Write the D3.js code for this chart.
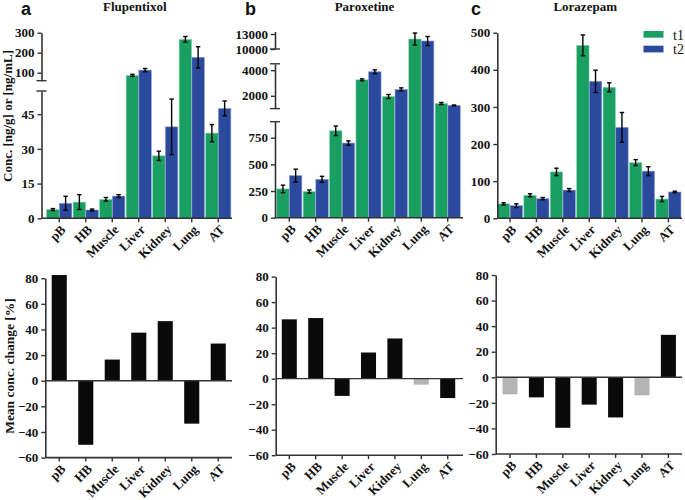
<!DOCTYPE html>
<html><head><meta charset="utf-8">
<script src="https://cdn.jsdelivr.net/npm/d3@7/dist/d3.min.js"></script>
<style>
body{margin:0;background:#fff;}
svg text{font-family:"Liberation Serif","Times New Roman",serif;font-weight:bold;fill:#111;}
</style></head><body>
<svg id="chart" width="685" height="500"></svg>
<script>
const categories = ["pB","HB","Muscle","Liver","Kidney","Lung","AT"];
const seriesNames = ["t1","t2"];

const fluT1    = [3.8, 7.0, 8.2, 87, 27, 267, 36.8];
const fluT2    = [6.5, 3.6, 9.6, 113, 39.5, 177, 47.5];
const fluT1Err = [0.4, 3.2, 0.8, 5, 2, 14, 3.7];
const fluT2Err = [3.0, 0.4, 0.6, 8, 12, 53, 3.2];

const parT1    = [270, 245, 815, 3250, 1950, 12000, 1400];
const parT2    = [395, 360, 700, 3880, 2500, 11600, 1250];
const parT1Err = [35, 15, 45, 70, 150, 1200, 80];
const parT2Err = [60, 28, 20, 150, 120, 900, 30];

const lorT1    = [39, 62, 125, 466, 353, 150, 52];
const lorT2    = [34, 53, 76, 369, 245, 127, 71];
const lorT1Err = [3, 4, 10, 28, 12, 8, 7];
const lorT2Err = [5, 3, 4, 30, 40, 12, 2];

const fluChange = [82.5, -50, 16.5, 37.5, 46.5, -33.5, 29];
const parChange = [46.5, 47.5, -13.5, 20.5, 31.5, -4.7, -15.2];
const lorChange = [-13.3, -15.7, -39.5, -21.4, -31.4, -14.1, 33.2];
const fluSignificant = [1,1,1,1,1,1,1];
const parSignificant = [1,1,1,1,1,0,1];
const lorSignificant = [0,1,1,1,1,0,1];

const titles = ["Flupentixol","Paroxetine","Lorazepam"];
const letters = ["a","b","c"];
const changeTicks = [-60,-40,-20,0,20,40,60,80];

const GREEN = "#1a9f62", BLUE = "#2b4a9e", BLACK = "#0a0a0a", GRAY = "#b4b4b4", AX = "#333";
const svg = d3.select("#chart");

function brokenScale(segs){
  const sc = segs.map(s => d3.scaleLinear().domain(s.domain).range(s.range));
  return v => {
    for (let i = 0; i < segs.length; i++){
      if (v <= segs[i].domain[1] || i === segs.length-1){
        if (v < segs[i].domain[0]) return sc[i](segs[i].domain[0]);
        return sc[i](v);
      }
    }
  };
}

const topPanels = [
  {t1: fluT1, t2: fluT2, e1: fluT1Err, e2: fluT2Err, axisX: 41.5, x0: 46, x1: 231.5, xEnd: 232,
   segs: [{domain:[0,55], range:[218.3,91], ticks:[0,15,30,45], capTop:true},
          {domain:[60,300], range:[80.7,32.7], ticks:[100,200,300], capBottom:true}]},
  {t1: parT1, t2: parT2, e1: parT1Err, e2: parT2Err, axisX: 275, x0: 276.1, x1: 460.9, xEnd: 463,
   segs: [{domain:[0,900], range:[217.7,121.7], ticks:[0,250,500,750], capTop:true},
          {domain:[1000,4500], range:[108.6,63.8], ticks:[2000,4000], capTop:true, capBottom:true},
          {domain:[10000,13500], range:[49,31.5], ticks:[10000,13000], capBottom:true}]},
  {t1: lorT1, t2: lorT2, e1: lorT1Err, e2: lorT2Err, axisX: 497.3, x0: 496.8, x1: 681.6, xEnd: 682,
   segs: [{domain:[0,500], range:[218.3,32.7], ticks:[0,100,200,300,400,500]}]}
];

const bottomPanels = [
  {vals: fluChange, sig: fluSignificant, axisX: 45.3, x0: 46, x1: 231.5, xEnd: 232, yr:[457.6,278.2]},
  {vals: parChange, sig: parSignificant, axisX: 275.7, x0: 276.1, x1: 460.9, xEnd: 463, yr:[455.2,276.6]},
  {vals: lorChange, sig: lorSignificant, axisX: 495.7, x0: 496.8, x1: 681.6, xEnd: 682, yr:[454,275]}
];

const tickFont = "13px";

function styleAxis(ax){
  ax.select(".domain").attr("stroke", AX).attr("stroke-width", 1.6);
  ax.selectAll(".tick line").attr("stroke", AX).attr("stroke-width", 1.4);
  ax.selectAll(".tick text").style("font-size", tickFont).style("font-family",'"Liberation Serif",serif').style("font-weight","bold").attr("fill","#111");
}

function drawXAxis(g, x, y0, axisX, xEnd){
  g.append("line").attr("x1", axisX).attr("x2", xEnd).attr("y1", y0).attr("y2", y0)
    .attr("stroke", AX).attr("stroke-width", 1.6);
  categories.forEach(c => {
    const cx = x(c) + x.bandwidth()/2;
    g.append("line").attr("x1", cx).attr("x2", cx).attr("y1", y0).attr("y2", y0+4)
      .attr("stroke", AX).attr("stroke-width", 1.4);
    g.append("text").attr("transform", `translate(${cx+4},${y0+9}) rotate(-45)`)
      .attr("text-anchor","end").attr("dy","0.35em").style("font-size", tickFont).text(c);
  });
}

topPanels.forEach((p, pi) => {
  const g = svg.append("g");
  const x = d3.scaleBand().domain(categories).range([p.x0, p.x1]).padding(0);
  const xs = d3.scaleBand().domain(seriesNames).range([0, x.bandwidth()]).paddingInner(0.02).paddingOuter(0.05);
  const y = brokenScale(p.segs);
  const y0 = y(0);
  const rows = categories.map((c,i) => ({c, vals:[
    {s:"t1", v:p.t1[i], e:p.e1[i]}, {s:"t2", v:p.t2[i], e:p.e2[i]}]}));
  const grp = g.selectAll("g.cat").data(rows).join("g").attr("transform", d => `translate(${x(d.c)},0)`);
  grp.selectAll("rect").data(d => d.vals).join("rect")
    .attr("x", d => xs(d.s)).attr("width", xs.bandwidth())
    .attr("y", d => y(d.v)).attr("height", d => y0 - y(d.v))
    .attr("fill", d => d.s === "t1" ? GREEN : BLUE)
    .attr("stroke", d => d.s === "t1" ? "#8fd6b2" : "#8d9fd6").attr("stroke-width", 0.6);
  grp.selectAll("g.err").data(d => d.vals).join("g").each(function(d){
    const cx = xs(d.s) + xs.bandwidth()/2;
    const e = d3.select(this);
    const yt = y(d.v + d.e), yb = y(d.v - d.e);
    e.append("line").attr("x1",cx).attr("x2",cx).attr("y1",yt).attr("y2",yb).attr("stroke","#000").attr("stroke-width",1.4);
    [yt,yb].forEach(yy => e.append("line").attr("x1",cx-2.2).attr("x2",cx+2.2).attr("y1",yy).attr("y2",yy).attr("stroke","#000").attr("stroke-width",1.4));
  });
  p.segs.forEach(s => {
    const sc = d3.scaleLinear().domain(s.domain).range(s.range);
    const ax = g.append("g").attr("transform", `translate(${p.axisX},0)`)
      .call(d3.axisLeft(sc).tickValues(s.ticks).tickFormat(d3.format("d")).tickSize(4).tickSizeOuter(0).tickPadding(3));
    styleAxis(ax);
    if (s.capTop) g.append("line").attr("x1",p.axisX-5).attr("x2",p.axisX+5).attr("y1",s.range[1]).attr("y2",s.range[1]).attr("stroke",AX).attr("stroke-width",1.4);
    if (s.capBottom) g.append("line").attr("x1",p.axisX-5).attr("x2",p.axisX+5).attr("y1",s.range[0]).attr("y2",s.range[0]).attr("stroke",AX).attr("stroke-width",1.4);
  });
  drawXAxis(g, x, y0, p.axisX, p.xEnd);
  g.append("text").attr("x", (p.x0+p.x1)/2 - 4).attr("y", 11).attr("text-anchor","middle").style("font-size","13px").text(titles[pi]);
  g.append("text").attr("x", [21,245,471][pi]).attr("y", 15).style("font-family",'"Liberation Sans",Arial,sans-serif').style("font-size","18px").text(letters[pi]);
});

svg.append("text").attr("transform","translate(12,116) rotate(-90)").attr("text-anchor","middle").style("font-size","13px").text("Conc. [ng/g] or [ng/mL]");
svg.append("text").attr("transform","translate(14,366) rotate(-90)").attr("text-anchor","middle").style("font-size","13.5px").text("Mean conc. change [%]");

seriesNames.forEach((s,i) => {
  svg.append("rect").attr("x",643.5).attr("y",31+i*14.7).attr("width",20).attr("height",6.7).attr("fill", i===0?GREEN:BLUE);
  svg.append("text").attr("x",673).attr("y",39.5+i*14.7).style("font-weight","normal").style("font-size","14px").text(s);
});

bottomPanels.forEach((p) => {
  const g = svg.append("g");
  const x = d3.scaleBand().domain(categories).range([p.x0, p.x1]).paddingInner(0.43).paddingOuter(0.215);
  const xc = d3.scaleBand().domain(categories).range([p.x0, p.x1]).padding(0);
  const y = d3.scaleLinear().domain([-60,80]).range(p.yr);
  const rows = categories.map((c,i) => ({c, v:p.vals[i], s:p.sig[i]}));
  g.selectAll("rect").data(rows).join("rect")
    .attr("x", d => x(d.c)).attr("width", x.bandwidth())
    .attr("y", d => y(Math.max(0,d.v))).attr("height", d => Math.abs(y(d.v)-y(0)))
    .attr("fill", d => d.s ? BLACK : GRAY);
  const ax = g.append("g").attr("transform", `translate(${p.axisX},0)`)
    .call(d3.axisLeft(y).tickValues(changeTicks).tickSize(4).tickSizeOuter(0).tickPadding(3));
  styleAxis(ax);
  g.append("line").attr("x1", p.axisX).attr("x2", p.xEnd).attr("y1", y(0)).attr("y2", y(0)).attr("stroke", AX).attr("stroke-width", 1.4);
  drawXAxis(g, xc, y(-60), p.axisX, p.xEnd);
});
</script></body></html>
